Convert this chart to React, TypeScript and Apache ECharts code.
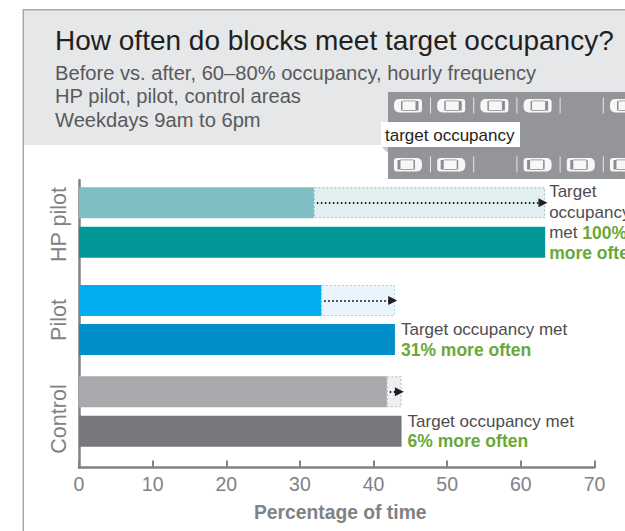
import React, { useEffect, useRef } from "react";
import * as echarts from "echarts";

const FONT = '"Liberation Sans", Arial, sans-serif';

const groups = ["HP pilot", "Pilot", "Control"];
const rows = ["Before", "After"];
const beforeValues = [31.9, 32.9, 41.8];
const afterValues = [63.3, 42.9, 43.8];
const targetLines = [
  ["Target", "occupancy", "met "],
  ["Target occupancy met"],
  ["Target occupancy met"],
];
const targetGains = ["100%", "31%", "6%"];
const beforeColors = ["#7fbfc3", "#00aeef", "#a7a9ac"];
const afterColors = ["#009796", "#008fc9", "#77787b"];
const gainFills = ["#e2f0f1", "#eaf4fc", "#eeeff0"];
const gainBorders = ["#8cc8ca", "#9ad3ec", "#b5b6b9"];
const groupNamePadding = [
  [0, 4, 0, 0],
  [0, 0, 0, 0],
  [0, 15, 0, 0],
];
const xTicks = [0, 10, 20, 30, 40, 50, 60, 70];
const title = "How often do blocks meet target occupancy?";
const subtitleLines = [
  "Before vs. after, 60–80% occupancy, hourly frequency",
  "HP pilot, pilot, control areas",
  "Weekdays 9am to 6pm",
];
const topRowCars = [1, 1, 1, 1, 0, 1];
const bottomRowCars = [1, 1, 0, 1, 1, 1];

const carShape = (x: number, y: number, flip: boolean) => {
  const s = flip ? -1 : 1;
  const ox = flip ? x + 28 : x;
  const dark = "#8a8c8f";
  return {
    type: "group",
    x: ox,
    y,
    scaleX: s,
    silent: true,
    children: [
      { type: "rect", shape: { x: 0, y: 0.5, width: 28, height: 13.5, r: [5, 3, 3, 5] }, style: { fill: "#f7f7f7" } },
      { type: "rect", shape: { x: 7, y: 2.5, width: 1.5, height: 9.5 }, style: { fill: dark } },
      { type: "rect", shape: { x: 8.5, y: 2, width: 13, height: 0.8 }, style: { fill: dark } },
      { type: "rect", shape: { x: 8.5, y: 11.5, width: 13, height: 0.8 }, style: { fill: dark } },
      { type: "rect", shape: { x: 21.5, y: 2.5, width: 3, height: 9.5 }, style: { fill: dark } },
    ],
  };
};

const carRow = (cars: number[], y: number, flip: boolean) => {
  const out: any[] = [];
  cars.forEach((has, i) => {
    const x = 394 + i * 43.2;
    if (has) out.push(carShape(x, y, flip));
    out.push({
      type: "rect",
      silent: true,
      shape: { x: x + 36, y: y - 1, width: 1, height: 16 },
      style: { fill: "#e6e7e8" },
    });
  });
  return out;
};

const grids = [
  { left: 79, width: 515.5, top: 183, height: 79 },
  { left: 79, width: 515.5, top: 281, height: 78 },
  { left: 79, width: 515.5, top: 372, height: 79 },
  { left: 79, width: 515.5, top: 180, height: 287.5 },
];

export default function App() {
  const ref = useRef<HTMLDivElement>(null);
  useEffect(() => {
    document.body.style.margin = "0";
    const chart = echarts.init(ref.current!, undefined, { renderer: "svg" });
    const series: any[] = [];
    groups.forEach((_, i) => {
      series.push({
        type: "bar",
        xAxisIndex: i,
        yAxisIndex: i,
        stack: "g" + i,
        barWidth: 31,
        data: [beforeValues[i], null],
        itemStyle: { color: beforeColors[i] },
        z: 3,
      });
      series.push({
        type: "bar",
        xAxisIndex: i,
        yAxisIndex: i,
        stack: "g" + i,
        barWidth: 31,
        data: [afterValues[i] - beforeValues[i], null],
        itemStyle: {
          color: gainFills[i],
          borderColor: gainBorders[i],
          borderWidth: 1,
          borderType: [2, 2],
        },
        z: 2,
        markLine: {
          silent: true,
          animation: false,
          symbol: ["none", "triangle"],
          symbolSize: [9, 9],
          label: { show: false },
          lineStyle: { color: "#231f20", type: [1.5, 2.5], width: 1.8 },
          data: [
            [
              { coord: [beforeValues[i] + 0.4, rows[0]] },
              { coord: [afterValues[i] - 0.3, rows[0]] },
            ],
          ],
        },
      });
      const lines = targetLines[i];
      const multi = lines.length > 1;
      series.push({
        type: "bar",
        xAxisIndex: i,
        yAxisIndex: i,
        stack: "g" + i,
        barWidth: 31,
        data: [null, afterValues[i]],
        itemStyle: { color: afterColors[i] },
        label: {
          show: true,
          position: "right",
          distance: multi ? 4 : 6,
          offset: multi ? [0, -20] : [0, 0],
          formatter: () =>
            multi
              ? `{t|${lines[0]}}\n{t|${lines[1]}}\n{t|${lines[2]}}{g|${targetGains[i]}}\n{g|more often}`
              : `{t|${lines[0]}}\n{g|${targetGains[i]} more often}`,
          rich: {
            t: { fontFamily: FONT, fontSize: 17, color: "#4d4d4f", lineHeight: multi ? 20.5 : 20 },
            g: { fontFamily: FONT, fontSize: 17.5, fontWeight: "bold", color: "#6aa83a", lineHeight: multi ? 20.5 : 20 },
          },
        },
        z: 3,
      });
    });

    const hiddenX = (i: number) => ({
      gridIndex: i,
      type: "value",
      min: 0,
      max: 70,
      show: false,
    });
    const rowY = (i: number) => ({
      gridIndex: i,
      type: "category",
      inverse: true,
      data: rows,
      axisLine: { show: false },
      axisTick: { show: false },
      axisLabel: { show: false },
      name: groups[i],
      nameLocation: "middle",
      nameRotate: 90,
      nameGap: 9,
      nameTextStyle: { fontFamily: FONT, fontSize: 21.5, color: "#808285", padding: groupNamePadding[i] },
    });

    chart.setOption({
      animation: false,
      backgroundColor: "#fff",
      grid: grids,
      xAxis: [
        hiddenX(0),
        hiddenX(1),
        hiddenX(2),
        {
          gridIndex: 3,
          type: "value",
          min: 0,
          max: 70,
          interval: 10,
          splitLine: { show: false },
          axisLine: { show: true, lineStyle: { color: "#808285", width: 2.5 } },
          axisTick: { show: true, inside: true, length: 7, lineStyle: { color: "#808285", width: 2 } },
          axisLabel: {
            fontFamily: FONT,
            fontSize: 19.5,
            color: "#808285",
            margin: 6,
            formatter: (v: number) => (xTicks.includes(v) ? String(v) : ""),
          },
          name: "Percentage of time",
          nameLocation: "middle",
          nameGap: 35,
          nameTextStyle: { fontFamily: FONT, fontSize: 19.3, fontWeight: "bold", color: "#808285", padding: [0, 0, 0, 7] },
        },
      ],
      yAxis: [
        rowY(0),
        rowY(1),
        rowY(2),
        {
          gridIndex: 3,
          type: "value",
          min: 0,
          max: 1,
          splitLine: { show: false },
          axisLabel: { show: false },
          axisTick: { show: false },
          axisLine: { show: true, lineStyle: { color: "#808285", width: 2.5 } },
        },
      ],
      series,
      graphic: [
        { type: "rect", silent: true, z: -10, shape: { x: 23, y: 10, width: 602, height: 135 }, style: { fill: "#e6e7e8" } },
        { type: "rect", silent: true, z: -10, shape: { x: 23, y: 9, width: 602, height: 1.5 }, style: { fill: "#a7a9ac" } },
        { type: "rect", silent: true, z: -10, shape: { x: 22.5, y: 9, width: 1.5, height: 522 }, style: { fill: "#a7a9ac" } },
        {
          type: "text",
          silent: true,
          x: 55,
          y: 40,
          style: { text: title, fontFamily: FONT, fontSize: 28, fill: "#231f20", textVerticalAlign: "middle" },
        },
        ...subtitleLines.map((t, i) => ({
          type: "text",
          silent: true,
          x: 55,
          y: [73, 96, 120][i],
          style: { text: t, fontFamily: FONT, fontSize: 20.15, fill: "#58595b", textVerticalAlign: "middle" },
        })),
        { type: "rect", silent: true, shape: { x: 388, y: 92, width: 237, height: 87 }, style: { fill: "#939598" } },
        ...carRow(topRowCars, 98.5, false),
        ...carRow(bottomRowCars, 157.5, true),
        { type: "polygon", silent: true, shape: { points: [[381, 146], [388, 146], [388, 153]] }, style: { fill: "#c7c8ca" } },
        { type: "rect", silent: true, shape: { x: 381, y: 122, width: 139, height: 25 }, style: { fill: "#fff" } },
        {
          type: "text",
          silent: true,
          x: 385,
          y: 135,
          style: { text: "target occupancy", fontFamily: FONT, fontSize: 17, fill: "#231f20", textVerticalAlign: "middle" },
        },
      ],
    });
    return () => chart.dispose();
  }, []);
  return <div ref={ref} style={{ position: "fixed", left: 0, top: 0, width: 625, height: 531, overflow: "hidden" }} />;
}
